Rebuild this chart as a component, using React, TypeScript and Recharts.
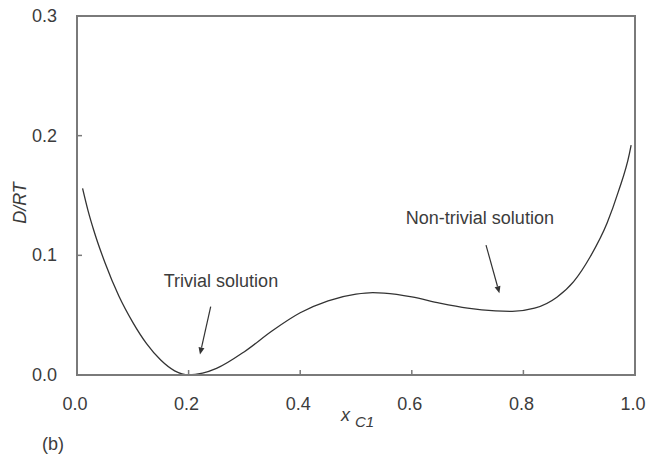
import {
  LineChart,
  Line,
  XAxis,
  YAxis,
  ReferenceArea,
  ReferenceLine,
  ReferenceDot,
} from 'recharts';

// Tangent-plane distance curve, D/RT against mole fraction of C1
const xC1 = [
  0.01, 0.02, 0.03, 0.05, 0.075, 0.1, 0.125, 0.15, 0.175, 0.2, 0.225, 0.25,
  0.3, 0.35, 0.4, 0.45, 0.5, 0.53, 0.55, 0.6, 0.65, 0.7, 0.75, 0.78, 0.82,
  0.86, 0.89, 0.92, 0.95, 0.97, 0.99, 0.993,
];
const dRT = [
  0.156, 0.137, 0.121, 0.094, 0.066, 0.044, 0.026, 0.0125, 0.0035, 0.0,
  0.0015, 0.0055, 0.0195, 0.037, 0.052, 0.062, 0.0675, 0.0688, 0.0684, 0.0653,
  0.0601, 0.0559, 0.0536, 0.0532, 0.0558, 0.065, 0.078, 0.099, 0.127, 0.153,
  0.185, 0.192,
];

const xTicks = [0, 0.2, 0.4, 0.6, 0.8, 1.0];
const yTicks = [0, 0.1, 0.2, 0.3];

// annotation text positions and arrow segments (data units)
const notes = [
  { text: 'Trivial solution', x: 0.258, y: 0.0785, from: [0.2396, 0.0571], to: [0.2204, 0.0171] },
  { text: 'Non-trivial solution', x: 0.722, y: 0.1312, from: [0.733, 0.1086], to: [0.757, 0.0683] },
];

const data = xC1.map((x, i) => ({ x, d: dRT[i] }));

const FONT = '"Liberation Sans", Arial, sans-serif';
const TEXT = '#3c3c3c';
const AXIS = '#7a7a7a';

function XTick({ x, y, payload }: any) {
  return (
    <g>
      <line x1={x} y1={y} x2={x} y2={y - 5} stroke={AXIS} strokeWidth={1.5} />
      <text x={x - 2} y={y + 29} textAnchor="middle" dominantBaseline="central" fontSize={18} fill={TEXT} fontFamily={FONT}>
        {payload.value.toFixed(1)}
      </text>
    </g>
  );
}

function YTick({ x, y, payload }: any) {
  return (
    <g>
      <line x1={x} y1={y} x2={x + 5} y2={y} stroke={AXIS} strokeWidth={1.5} />
      <text x={x - 20} y={y} textAnchor="end" dominantBaseline="central" fontSize={18} fill={TEXT} fontFamily={FONT}>
        {payload.value.toFixed(1)}
      </text>
    </g>
  );
}

function Arrow({ x1, y1, x2, y2 }: any) {
  const a = Math.atan2(y2 - y1, x2 - x1);
  const len = 7;
  const w = 3;
  const bx = x2 - len * Math.cos(a);
  const by = y2 - len * Math.sin(a);
  const px = -Math.sin(a) * w;
  const py = Math.cos(a) * w;
  return (
    <g>
      <line x1={x1} y1={y1} x2={bx} y2={by} stroke="#333" strokeWidth={1.2} />
      <polygon points={`${x2},${y2} ${bx + px},${by + py} ${bx - px},${by - py}`} fill="#333" />
    </g>
  );
}

export default function App() {
  return (
    <div style={{ position: 'absolute', left: 0, top: 0, width: 646, height: 459, background: '#fff' }}>
      <LineChart width={646} height={459} data={data} margin={{ top: 16, right: 11, bottom: 54, left: 17 }}>
        <XAxis
          dataKey="x"
          type="number"
          domain={[0, 1]}
          ticks={xTicks}
          tick={<XTick />}
          tickLine={false}
          tickSize={0}
          tickMargin={0}
          height={30}
          axisLine={{ stroke: AXIS, strokeWidth: 2 }}
          label={{
            content: () => (
              <text x={341} y={421} fontFamily={FONT} fill={TEXT}>
                <tspan fontSize={18} fontStyle="italic">x</tspan>
                <tspan fontSize={15} fontStyle="italic" dx={5} dy={6}>C1</tspan>
              </text>
            ),
          }}
        />
        <YAxis
          type="number"
          domain={[0, 0.3]}
          ticks={yTicks}
          tick={<YTick />}
          tickLine={false}
          tickSize={0}
          tickMargin={0}
          width={60}
          axisLine={{ stroke: AXIS, strokeWidth: 2 }}
          label={{
            content: () => (
              <text
                x={20}
                y={203}
                transform="rotate(-90 20 203)"
                textAnchor="middle"
                dominantBaseline="central"
                fontSize={18}
                fontStyle="italic"
                fill={TEXT}
                fontFamily={FONT}
              >
                D/RT
              </text>
            ),
          }}
        />
        <ReferenceArea x1={0} x2={1} y1={0} y2={0.3} fill="none" stroke={AXIS} strokeWidth={2} />
        <Line
          type="monotone"
          dataKey="d"
          stroke="#333"
          strokeWidth={1.3}
          dot={false}
          isAnimationActive={false}
        />
        {notes.map((n) => (
          <ReferenceLine
            key={n.text + '-arrow'}
            segment={[
              { x: n.from[0], y: n.from[1] },
              { x: n.to[0], y: n.to[1] },
            ]}
            shape={(p: any) => <Arrow {...p} />}
          />
        ))}
        {notes.map((n) => (
          <ReferenceDot
            key={n.text}
            x={n.x}
            y={n.y}
            r={0}
            shape={(p: any) => (
              <text x={p.cx} y={p.cy} textAnchor="middle" dominantBaseline="central" fontSize={18} fill={TEXT} fontFamily={FONT}>
                {n.text}
              </text>
            )}
          />
        ))}
      </LineChart>
      <span style={{ position: 'absolute', left: 42, top: 434, fontSize: 18, color: TEXT, fontFamily: FONT }}>(b)</span>
    </div>
  );
}
